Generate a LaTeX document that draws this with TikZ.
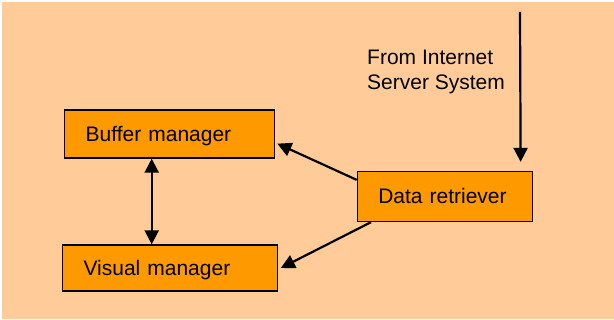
\documentclass[tikz,border=0pt]{standalone}
\usepackage{fontspec}
\setmainfont{Liberation Sans}
\usepackage{xcolor}
\usetikzlibrary{positioning,calc,arrows.meta}

\definecolor{peach}{HTML}{FFCC99}
\definecolor{boxorange}{HTML}{FF9900}

\tikzset{
	module/.style={rectangle, draw=black, fill=boxorange, line width=1.3pt, inner xsep=21pt, inner ysep=0pt, text height=15pt, text depth=0pt, align=left, font=\fontsize{21}{25}\selectfont},
	flow/.style={-{Triangle[length=14pt,width=14pt]}, line width=2.2pt},
	dflow/.style={{Triangle[length=14pt,width=14pt]}-{Triangle[length=14pt,width=14pt]}, line width=2.2pt}
}

\begin{document}
\begin{tikzpicture}[x=1pt,y=-1pt]
			% page and background
			\useasboundingbox (0,0) rectangle (614,320);
			\fill[white] (0,0) rectangle (614,320);
			\fill[peach] (2,2) rectangle (614,319);

			% modules
			\node[module, text width=168pt, minimum height=48pt] (buffer) at (169.7,134) {Buffer manager};
			\node[module, text width=172.6pt, minimum height=46pt] (visual) at (169.9,268) {Visual manager};
			\node[module, text width=133pt, minimum height=50pt] (retriever) at (444.8,196.5) {Data retriever};

			% incoming data
			\coordinate (server) at (520,12);
			\node[anchor=west, align=left, inner sep=0pt, font=\fontsize{21}{25}\selectfont] (source) at (367,71.5) {From Internet\\Server System};

			% connections
			\draw[flow] (server) -- ([xshift=-12.3pt,yshift=9pt]retriever.north east);
			\draw[flow] ([yshift=-9pt]retriever.north west) -- ([xshift=2pt,yshift=15pt]buffer.south east);
			\draw[flow] ([xshift=14.4pt]retriever.south west) -- ([xshift=3pt]visual.east);
			\draw[dflow] ([xshift=-18pt]buffer.south) -- ([xshift=-18.2pt]visual.north);

		\end{tikzpicture}
\end{document}
